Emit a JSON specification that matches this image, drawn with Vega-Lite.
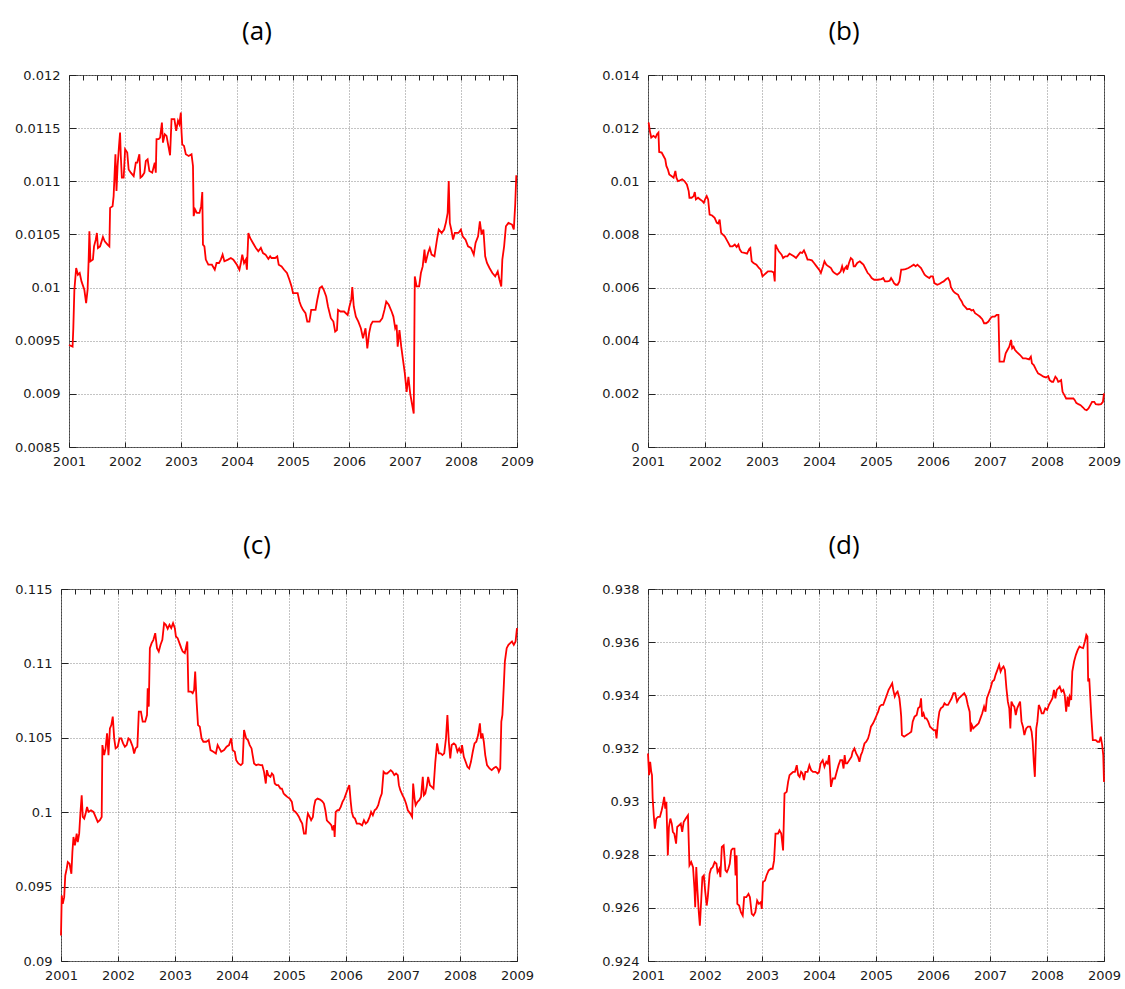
{
  "$schema": "https://vega.github.io/schema/vega-lite/v6.json",
  "background": "white",
  "padding": {"top": 18, "left": 0, "right": 0, "bottom": 0},
  "config": {
    "view": {"stroke": "#444444", "strokeWidth": 1},
    "title": {"font": "Open Sans", "fontSize": 26, "fontWeight": "normal", "color": "#000000", "baseline": "bottom", "offset": 24, "anchor": "middle", "frame": "group"},
    "axis": {"domain": false, "title": null, "labelFont": "DejaVu Sans", "labelFontSize": 13, "labelColor": "#1a1a1a", "tickColor": "#222222", "tickWidth": 1, "gridColor": "#888888", "gridDash": [1, 2], "gridWidth": 1, "labelOverlap": false},
    "axisX": {"tickSize": -5, "labelPadding": 13, "labelFlush": false},
    "axisY": {"tickSize": -7, "labelPadding": 16},
    "line": {"clip": true}
  },
  "spacing": 59,
  "vconcat": [
    {
      "spacing": 9,
      "hconcat": [
        {"width": 1, "height": 1, "data": {"values": [{}]}, "mark": {"type": "text", "text": ""}, "encoding": {}, "view": {"stroke": null}},
        {
          "width": 448, "height": 372,
          "data": {"name": "a"},
          "title": {"text": "(a)", "dx": -36},
          "layer": [
            {"mark": {"type": "line", "color": "#ff0000", "strokeWidth": 1.8},
             "encoding": {
               "x": {"field": "t", "type": "quantitative", "scale": {"domain": [2001, 2009], "nice": false, "zero": false},
                     "axis": {"orient": "bottom", "values": [2001,2001.25,2001.5,2001.75,2002,2002.25,2002.5,2002.75,2003,2003.25,2003.5,2003.75,2004,2004.25,2004.5,2004.75,2005,2005.25,2005.5,2005.75,2006,2006.25,2006.5,2006.75,2007,2007.25,2007.5,2007.75,2008,2008.25,2008.5,2008.75,2009], "format": "d", "labelExpr": "datum.value % 1 == 0 ? datum.label : ''", "gridOpacity": {"condition": {"test": "datum.value % 1 != 0", "value": 0}, "value": 1}, "minExtent": 25}},
               "y": {"field": "v", "type": "quantitative", "scale": {"domain": [0.0085, 0.012], "nice": false, "zero": false},
                     "axis": {"orient": "left", "values": [0.0085,0.009,0.0095,0.01,0.0105,0.011,0.0115,0.012], "format": "~g", "minExtent": 58}}
             }},
            {"mark": {"type": "line", "opacity": 0},
             "encoding": {
               "x": {"field": "t", "type": "quantitative", "scale": {"domain": [2001, 2009], "nice": false, "zero": false},
                     "axis": {"orient": "top", "values": [2001,2001.25,2001.5,2001.75,2002,2002.25,2002.5,2002.75,2003,2003.25,2003.5,2003.75,2004,2004.25,2004.5,2004.75,2005,2005.25,2005.5,2005.75,2006,2006.25,2006.5,2006.75,2007,2007.25,2007.5,2007.75,2008,2008.25,2008.5,2008.75,2009], "labels": false, "grid": false, "minExtent": 0}},
               "y": {"field": "v", "type": "quantitative", "scale": {"domain": [0.0085, 0.012], "nice": false, "zero": false},
                     "axis": {"orient": "right", "values": [0.0085,0.009,0.0095,0.01,0.0105,0.011,0.0115,0.012], "labels": false, "grid": false, "minExtent": 20}}
             }}
          ],
          "resolve": {"axis": {"x": "independent", "y": "independent"}}
        },
        {
          "width": 456, "height": 372,
          "data": {"name": "b"},
          "title": {"text": "(b)", "dx": -32},
          "layer": [
            {"mark": {"type": "line", "color": "#ff0000", "strokeWidth": 1.8},
             "encoding": {
               "x": {"field": "t", "type": "quantitative", "scale": {"domain": [2001, 2009], "nice": false, "zero": false},
                     "axis": {"orient": "bottom", "values": [2001,2001.25,2001.5,2001.75,2002,2002.25,2002.5,2002.75,2003,2003.25,2003.5,2003.75,2004,2004.25,2004.5,2004.75,2005,2005.25,2005.5,2005.75,2006,2006.25,2006.5,2006.75,2007,2007.25,2007.5,2007.75,2008,2008.25,2008.5,2008.75,2009], "format": "d", "labelExpr": "datum.value % 1 == 0 ? datum.label : ''", "gridOpacity": {"condition": {"test": "datum.value % 1 != 0", "value": 0}, "value": 1}, "minExtent": 25}},
               "y": {"field": "v", "type": "quantitative", "scale": {"domain": [0, 0.014], "nice": false, "zero": false},
                     "axis": {"orient": "left", "values": [0,0.002,0.004,0.006,0.008,0.01,0.012,0.014], "format": "~g", "minExtent": 100}}
             }},
            {"mark": {"type": "line", "opacity": 0},
             "encoding": {
               "x": {"field": "t", "type": "quantitative", "scale": {"domain": [2001, 2009], "nice": false, "zero": false},
                     "axis": {"orient": "top", "values": [2001,2001.25,2001.5,2001.75,2002,2002.25,2002.5,2002.75,2003,2003.25,2003.5,2003.75,2004,2004.25,2004.5,2004.75,2005,2005.25,2005.5,2005.75,2006,2006.25,2006.5,2006.75,2007,2007.25,2007.5,2007.75,2008,2008.25,2008.5,2008.75,2009], "labels": false, "grid": false, "minExtent": 0}},
               "y": {"field": "v", "type": "quantitative", "scale": {"domain": [0, 0.014], "nice": false, "zero": false},
                     "axis": {"orient": "right", "values": [0,0.002,0.004,0.006,0.008,0.01,0.012,0.014], "labels": false, "grid": false, "minExtent": 20}}
             }}
          ],
          "resolve": {"axis": {"x": "independent", "y": "independent"}}
        }
      ]
    },
    {
      "spacing": 9,
      "hconcat": [
        {"width": 1, "height": 1, "data": {"values": [{}]}, "mark": {"type": "text", "text": ""}, "encoding": {}, "view": {"stroke": null}},
        {
          "width": 456, "height": 372,
          "data": {"name": "c"},
          "title": {"text": "(c)", "dx": -32},
          "layer": [
            {"mark": {"type": "line", "color": "#ff0000", "strokeWidth": 1.8},
             "encoding": {
               "x": {"field": "t", "type": "quantitative", "scale": {"domain": [2001, 2009], "nice": false, "zero": false},
                     "axis": {"orient": "bottom", "values": [2001,2001.25,2001.5,2001.75,2002,2002.25,2002.5,2002.75,2003,2003.25,2003.5,2003.75,2004,2004.25,2004.5,2004.75,2005,2005.25,2005.5,2005.75,2006,2006.25,2006.5,2006.75,2007,2007.25,2007.5,2007.75,2008,2008.25,2008.5,2008.75,2009], "format": "d", "labelExpr": "datum.value % 1 == 0 ? datum.label : ''", "gridOpacity": {"condition": {"test": "datum.value % 1 != 0", "value": 0}, "value": 1}, "minExtent": 25}},
               "y": {"field": "v", "type": "quantitative", "scale": {"domain": [0.09, 0.115], "nice": false, "zero": false},
                     "axis": {"orient": "left", "values": [0.09,0.095,0.1,0.105,0.11,0.115], "format": "~g", "minExtent": 50}}
             }},
            {"mark": {"type": "line", "opacity": 0},
             "encoding": {
               "x": {"field": "t", "type": "quantitative", "scale": {"domain": [2001, 2009], "nice": false, "zero": false},
                     "axis": {"orient": "top", "values": [2001,2001.25,2001.5,2001.75,2002,2002.25,2002.5,2002.75,2003,2003.25,2003.5,2003.75,2004,2004.25,2004.5,2004.75,2005,2005.25,2005.5,2005.75,2006,2006.25,2006.5,2006.75,2007,2007.25,2007.5,2007.75,2008,2008.25,2008.5,2008.75,2009], "labels": false, "grid": false, "minExtent": 0}},
               "y": {"field": "v", "type": "quantitative", "scale": {"domain": [0.09, 0.115], "nice": false, "zero": false},
                     "axis": {"orient": "right", "values": [0.09,0.095,0.1,0.105,0.11,0.115], "labels": false, "grid": false, "minExtent": 20}}
             }}
          ],
          "resolve": {"axis": {"x": "independent", "y": "independent"}}
        },
        {
          "width": 456, "height": 372,
          "data": {"name": "d"},
          "title": {"text": "(d)", "dx": -32},
          "layer": [
            {"mark": {"type": "line", "color": "#ff0000", "strokeWidth": 1.8},
             "encoding": {
               "x": {"field": "t", "type": "quantitative", "scale": {"domain": [2001, 2009], "nice": false, "zero": false},
                     "axis": {"orient": "bottom", "values": [2001,2001.25,2001.5,2001.75,2002,2002.25,2002.5,2002.75,2003,2003.25,2003.5,2003.75,2004,2004.25,2004.5,2004.75,2005,2005.25,2005.5,2005.75,2006,2006.25,2006.5,2006.75,2007,2007.25,2007.5,2007.75,2008,2008.25,2008.5,2008.75,2009], "format": "d", "labelExpr": "datum.value % 1 == 0 ? datum.label : ''", "gridOpacity": {"condition": {"test": "datum.value % 1 != 0", "value": 0}, "value": 1}, "minExtent": 25}},
               "y": {"field": "v", "type": "quantitative", "scale": {"domain": [0.924, 0.938], "nice": false, "zero": false},
                     "axis": {"orient": "left", "values": [0.924,0.926,0.928,0.93,0.932,0.934,0.936,0.938], "format": "~g", "minExtent": 100}}
             }},
            {"mark": {"type": "line", "opacity": 0},
             "encoding": {
               "x": {"field": "t", "type": "quantitative", "scale": {"domain": [2001, 2009], "nice": false, "zero": false},
                     "axis": {"orient": "top", "values": [2001,2001.25,2001.5,2001.75,2002,2002.25,2002.5,2002.75,2003,2003.25,2003.5,2003.75,2004,2004.25,2004.5,2004.75,2005,2005.25,2005.5,2005.75,2006,2006.25,2006.5,2006.75,2007,2007.25,2007.5,2007.75,2008,2008.25,2008.5,2008.75,2009], "labels": false, "grid": false, "minExtent": 0}},
               "y": {"field": "v", "type": "quantitative", "scale": {"domain": [0.924, 0.938], "nice": false, "zero": false},
                     "axis": {"orient": "right", "values": [0.924,0.926,0.928,0.93,0.932,0.934,0.936,0.938], "labels": false, "grid": false, "minExtent": 20}}
             }}
          ],
          "resolve": {"axis": {"x": "independent", "y": "independent"}}
        }
      ]
    }
  ],
  "datasets": {
    "a": [
      {"t":2001.000,"v":0.00946},{"t":2001.064,"v":0.009444},{"t":2001.077,"v":0.009617},{"t":2001.096,"v":0.009979},{"t":2001.128,"v":0.010184},{"t":2001.159,"v":0.010121},{"t":2001.191,"v":0.010137},{"t":2001.223,"v":0.010058},{"t":2001.274,"v":0.009979},{"t":2001.306,"v":0.009853},{"t":2001.332,"v":0.009979},{"t":2001.351,"v":0.010263},{"t":2001.364,"v":0.01053},{"t":2001.383,"v":0.010247},{"t":2001.427,"v":0.010263},{"t":2001.447,"v":0.010388},{"t":2001.478,"v":0.010451},{"t":2001.498,"v":0.010514},{"t":2001.517,"v":0.010373},{"t":2001.555,"v":0.010388},{"t":2001.606,"v":0.010477},{"t":2001.638,"v":0.010436},{"t":2001.689,"v":0.010404},{"t":2001.721,"v":0.010388},{"t":2001.734,"v":0.01075},{"t":2001.778,"v":0.010766},{"t":2001.797,"v":0.010861},{"t":2001.829,"v":0.011254},{"t":2001.848,"v":0.010908},{"t":2001.868,"v":0.011144},{"t":2001.893,"v":0.011333},{"t":2001.912,"v":0.011459},{"t":2001.925,"v":0.011238},{"t":2001.944,"v":0.011034},{"t":2001.976,"v":0.011034},{"t":2002.002,"v":0.011301},{"t":2002.040,"v":0.01127},{"t":2002.065,"v":0.011112},{"t":2002.104,"v":0.011081},{"t":2002.155,"v":0.011049},{"t":2002.193,"v":0.011175},{"t":2002.218,"v":0.011175},{"t":2002.257,"v":0.011254},{"t":2002.276,"v":0.011034},{"t":2002.308,"v":0.011049},{"t":2002.346,"v":0.011081},{"t":2002.372,"v":0.011191},{"t":2002.404,"v":0.011207},{"t":2002.435,"v":0.011097},{"t":2002.486,"v":0.011081},{"t":2002.531,"v":0.011175},{"t":2002.550,"v":0.011081},{"t":2002.563,"v":0.011396},{"t":2002.601,"v":0.011396},{"t":2002.627,"v":0.011411},{"t":2002.659,"v":0.011553},{"t":2002.678,"v":0.011364},{"t":2002.710,"v":0.011443},{"t":2002.742,"v":0.011427},{"t":2002.774,"v":0.011333},{"t":2002.805,"v":0.011245},{"t":2002.831,"v":0.011585},{"t":2002.882,"v":0.011585},{"t":2002.914,"v":0.011474},{"t":2002.946,"v":0.011569},{"t":2002.971,"v":0.011537},{"t":2002.997,"v":0.011647},{"t":2003.010,"v":0.011459},{"t":2003.022,"v":0.011348},{"t":2003.054,"v":0.011333},{"t":2003.086,"v":0.011254},{"t":2003.137,"v":0.011238},{"t":2003.188,"v":0.011254},{"t":2003.214,"v":0.011144},{"t":2003.226,"v":0.010672},{"t":2003.252,"v":0.010735},{"t":2003.284,"v":0.010703},{"t":2003.329,"v":0.010703},{"t":2003.360,"v":0.010766},{"t":2003.380,"v":0.010898},{"t":2003.392,"v":0.010404},{"t":2003.418,"v":0.010388},{"t":2003.443,"v":0.010263},{"t":2003.488,"v":0.010215},{"t":2003.552,"v":0.010215},{"t":2003.603,"v":0.010168},{"t":2003.635,"v":0.010231},{"t":2003.679,"v":0.010231},{"t":2003.711,"v":0.010263},{"t":2003.743,"v":0.01031},{"t":2003.775,"v":0.010247},{"t":2003.839,"v":0.010263},{"t":2003.890,"v":0.010278},{"t":2003.935,"v":0.010263},{"t":2003.998,"v":0.010215},{"t":2004.043,"v":0.010168},{"t":2004.069,"v":0.010231},{"t":2004.094,"v":0.01031},{"t":2004.126,"v":0.010231},{"t":2004.158,"v":0.010263},{"t":2004.177,"v":0.010168},{"t":2004.203,"v":0.010514},{"t":2004.234,"v":0.010467},{"t":2004.285,"v":0.01042},{"t":2004.337,"v":0.010373},{"t":2004.381,"v":0.010341},{"t":2004.426,"v":0.010373},{"t":2004.464,"v":0.010325},{"t":2004.509,"v":0.01031},{"t":2004.560,"v":0.010269},{"t":2004.592,"v":0.010294},{"t":2004.617,"v":0.010278},{"t":2004.681,"v":0.010278},{"t":2004.719,"v":0.010294},{"t":2004.745,"v":0.010215},{"t":2004.796,"v":0.010199},{"t":2004.841,"v":0.010168},{"t":2004.892,"v":0.010137},{"t":2004.936,"v":0.010074},{"t":2004.974,"v":0.010011},{"t":2005.000,"v":0.009948},{"t":2005.083,"v":0.009948},{"t":2005.115,"v":0.009869},{"t":2005.147,"v":0.009822},{"t":2005.179,"v":0.00979},{"t":2005.223,"v":0.009759},{"t":2005.255,"v":0.00968},{"t":2005.293,"v":0.00968},{"t":2005.325,"v":0.00979},{"t":2005.402,"v":0.00979},{"t":2005.434,"v":0.009885},{"t":2005.478,"v":0.009995},{"t":2005.517,"v":0.010011},{"t":2005.549,"v":0.009979},{"t":2005.593,"v":0.009916},{"t":2005.625,"v":0.009822},{"t":2005.676,"v":0.009712},{"t":2005.721,"v":0.00968},{"t":2005.753,"v":0.009586},{"t":2005.785,"v":0.009601},{"t":2005.804,"v":0.00979},{"t":2005.848,"v":0.009775},{"t":2005.912,"v":0.009775},{"t":2005.976,"v":0.009743},{"t":2006.008,"v":0.009822},{"t":2006.040,"v":0.009885},{"t":2006.059,"v":0.010004},{"t":2006.085,"v":0.009822},{"t":2006.123,"v":0.009727},{"t":2006.167,"v":0.00968},{"t":2006.212,"v":0.009617},{"t":2006.250,"v":0.009523},{"t":2006.295,"v":0.009617},{"t":2006.327,"v":0.009428},{"t":2006.359,"v":0.00957},{"t":2006.391,"v":0.009649},{"t":2006.423,"v":0.00968},{"t":2006.550,"v":0.00968},{"t":2006.595,"v":0.009712},{"t":2006.633,"v":0.00979},{"t":2006.665,"v":0.009869},{"t":2006.710,"v":0.009838},{"t":2006.761,"v":0.009775},{"t":2006.793,"v":0.009727},{"t":2006.825,"v":0.009617},{"t":2006.850,"v":0.009649},{"t":2006.869,"v":0.009444},{"t":2006.901,"v":0.009601},{"t":2006.933,"v":0.009444},{"t":2006.965,"v":0.009318},{"t":2006.997,"v":0.009192},{"t":2007.029,"v":0.009019},{"t":2007.061,"v":0.009161},{"t":2007.093,"v":0.009003},{"t":2007.124,"v":0.008909},{"t":2007.156,"v":0.008815},{"t":2007.175,"v":0.010105},{"t":2007.207,"v":0.010011},{"t":2007.252,"v":0.010011},{"t":2007.284,"v":0.010137},{"t":2007.316,"v":0.010199},{"t":2007.348,"v":0.010357},{"t":2007.367,"v":0.010231},{"t":2007.411,"v":0.010325},{"t":2007.443,"v":0.010373},{"t":2007.475,"v":0.01031},{"t":2007.526,"v":0.010294},{"t":2007.571,"v":0.010451},{"t":2007.603,"v":0.010546},{"t":2007.654,"v":0.010514},{"t":2007.699,"v":0.010546},{"t":2007.730,"v":0.010609},{"t":2007.762,"v":0.010703},{"t":2007.781,"v":0.011002},{"t":2007.800,"v":0.010609},{"t":2007.826,"v":0.010546},{"t":2007.858,"v":0.010451},{"t":2007.890,"v":0.010514},{"t":2007.954,"v":0.010514},{"t":2007.998,"v":0.010546},{"t":2008.030,"v":0.010483},{"t":2008.081,"v":0.010451},{"t":2008.126,"v":0.010388},{"t":2008.177,"v":0.010373},{"t":2008.228,"v":0.01031},{"t":2008.260,"v":0.01042},{"t":2008.305,"v":0.010483},{"t":2008.337,"v":0.010624},{"t":2008.368,"v":0.010499},{"t":2008.400,"v":0.010546},{"t":2008.432,"v":0.010294},{"t":2008.464,"v":0.010231},{"t":2008.509,"v":0.010184},{"t":2008.560,"v":0.010137},{"t":2008.611,"v":0.010105},{"t":2008.656,"v":0.010152},{"t":2008.687,"v":0.010074},{"t":2008.719,"v":0.010011},{"t":2008.738,"v":0.010263},{"t":2008.770,"v":0.010388},{"t":2008.802,"v":0.010577},{"t":2008.847,"v":0.010609},{"t":2008.911,"v":0.010593},{"t":2008.943,"v":0.010546},{"t":2008.968,"v":0.010782},{"t":2008.987,"v":0.011049},{"t":2009.000,"v":0.011049}
    ],
    "b": [
      {"t":2001.000,"v":0.0122},{"t":2001.013,"v":0.012187},{"t":2001.032,"v":0.011898},{"t":2001.057,"v":0.011646},{"t":2001.095,"v":0.011709},{"t":2001.133,"v":0.011646},{"t":2001.158,"v":0.011772},{"t":2001.183,"v":0.011835},{"t":2001.196,"v":0.011104},{"t":2001.240,"v":0.011079},{"t":2001.272,"v":0.010953},{"t":2001.303,"v":0.010827},{"t":2001.322,"v":0.010576},{"t":2001.348,"v":0.01045},{"t":2001.373,"v":0.010261},{"t":2001.411,"v":0.010198},{"t":2001.449,"v":0.010135},{"t":2001.480,"v":0.010387},{"t":2001.499,"v":0.010135},{"t":2001.524,"v":0.010009},{"t":2001.562,"v":0.010034},{"t":2001.600,"v":0.010072},{"t":2001.638,"v":0.010009},{"t":2001.682,"v":0.009883},{"t":2001.714,"v":0.009631},{"t":2001.727,"v":0.00938},{"t":2001.765,"v":0.00938},{"t":2001.802,"v":0.009443},{"t":2001.821,"v":0.009594},{"t":2001.840,"v":0.009317},{"t":2001.878,"v":0.00938},{"t":2001.916,"v":0.009317},{"t":2001.954,"v":0.009254},{"t":2001.979,"v":0.009191},{"t":2002.005,"v":0.009342},{"t":2002.030,"v":0.009443},{"t":2002.055,"v":0.009317},{"t":2002.081,"v":0.00875},{"t":2002.125,"v":0.008712},{"t":2002.169,"v":0.008624},{"t":2002.207,"v":0.008435},{"t":2002.232,"v":0.00841},{"t":2002.257,"v":0.008561},{"t":2002.283,"v":0.008058},{"t":2002.314,"v":0.007995},{"t":2002.346,"v":0.007932},{"t":2002.378,"v":0.007806},{"t":2002.409,"v":0.00768},{"t":2002.441,"v":0.007554},{"t":2002.485,"v":0.007554},{"t":2002.523,"v":0.007617},{"t":2002.555,"v":0.007529},{"t":2002.586,"v":0.007617},{"t":2002.611,"v":0.007428},{"t":2002.643,"v":0.007327},{"t":2002.694,"v":0.007302},{"t":2002.738,"v":0.007277},{"t":2002.776,"v":0.007453},{"t":2002.795,"v":0.007491},{"t":2002.820,"v":0.006987},{"t":2002.851,"v":0.006925},{"t":2002.902,"v":0.006862},{"t":2002.946,"v":0.006736},{"t":2002.978,"v":0.006673},{"t":2003.009,"v":0.006421},{"t":2003.041,"v":0.006484},{"t":2003.073,"v":0.006547},{"t":2003.104,"v":0.00661},{"t":2003.167,"v":0.00661},{"t":2003.205,"v":0.006572},{"t":2003.224,"v":0.006232},{"t":2003.237,"v":0.007617},{"t":2003.262,"v":0.007491},{"t":2003.294,"v":0.007365},{"t":2003.344,"v":0.007239},{"t":2003.370,"v":0.007113},{"t":2003.408,"v":0.007176},{"t":2003.445,"v":0.007176},{"t":2003.483,"v":0.007277},{"t":2003.515,"v":0.007239},{"t":2003.559,"v":0.007176},{"t":2003.597,"v":0.007113},{"t":2003.641,"v":0.007239},{"t":2003.673,"v":0.007327},{"t":2003.705,"v":0.007302},{"t":2003.736,"v":0.007403},{"t":2003.768,"v":0.007239},{"t":2003.799,"v":0.00705},{"t":2003.831,"v":0.00705},{"t":2003.875,"v":0.007025},{"t":2003.913,"v":0.006925},{"t":2003.957,"v":0.006799},{"t":2004.002,"v":0.006673},{"t":2004.033,"v":0.006547},{"t":2004.071,"v":0.006799},{"t":2004.096,"v":0.006987},{"t":2004.128,"v":0.006862},{"t":2004.166,"v":0.006799},{"t":2004.210,"v":0.006736},{"t":2004.242,"v":0.00661},{"t":2004.273,"v":0.006547},{"t":2004.318,"v":0.006484},{"t":2004.355,"v":0.006547},{"t":2004.381,"v":0.00661},{"t":2004.406,"v":0.006799},{"t":2004.431,"v":0.00661},{"t":2004.457,"v":0.006736},{"t":2004.482,"v":0.006799},{"t":2004.494,"v":0.006673},{"t":2004.526,"v":0.006925},{"t":2004.558,"v":0.007113},{"t":2004.589,"v":0.00705},{"t":2004.608,"v":0.006799},{"t":2004.633,"v":0.006799},{"t":2004.671,"v":0.006925},{"t":2004.716,"v":0.006987},{"t":2004.747,"v":0.006925},{"t":2004.779,"v":0.006862},{"t":2004.810,"v":0.006736},{"t":2004.855,"v":0.006547},{"t":2004.886,"v":0.006484},{"t":2004.924,"v":0.006358},{"t":2004.968,"v":0.006295},{"t":2005.032,"v":0.006295},{"t":2005.095,"v":0.00632},{"t":2005.126,"v":0.006358},{"t":2005.158,"v":0.006232},{"t":2005.202,"v":0.006232},{"t":2005.240,"v":0.006257},{"t":2005.265,"v":0.006358},{"t":2005.291,"v":0.00627},{"t":2005.316,"v":0.006169},{"t":2005.348,"v":0.006106},{"t":2005.379,"v":0.006106},{"t":2005.411,"v":0.006232},{"t":2005.442,"v":0.006673},{"t":2005.474,"v":0.006673},{"t":2005.518,"v":0.006698},{"t":2005.569,"v":0.006736},{"t":2005.619,"v":0.006799},{"t":2005.663,"v":0.006862},{"t":2005.695,"v":0.006799},{"t":2005.727,"v":0.006862},{"t":2005.758,"v":0.006799},{"t":2005.790,"v":0.006736},{"t":2005.821,"v":0.00661},{"t":2005.853,"v":0.006484},{"t":2005.885,"v":0.006421},{"t":2005.935,"v":0.006358},{"t":2005.960,"v":0.006421},{"t":2005.998,"v":0.006421},{"t":2006.024,"v":0.006169},{"t":2006.074,"v":0.006106},{"t":2006.118,"v":0.006144},{"t":2006.150,"v":0.006194},{"t":2006.188,"v":0.006232},{"t":2006.232,"v":0.00632},{"t":2006.264,"v":0.006358},{"t":2006.295,"v":0.006232},{"t":2006.314,"v":0.006018},{"t":2006.359,"v":0.005854},{"t":2006.390,"v":0.005791},{"t":2006.441,"v":0.005728},{"t":2006.466,"v":0.005603},{"t":2006.504,"v":0.005477},{"t":2006.529,"v":0.005351},{"t":2006.567,"v":0.005263},{"t":2006.599,"v":0.005187},{"t":2006.643,"v":0.0052},{"t":2006.675,"v":0.005137},{"t":2006.706,"v":0.005162},{"t":2006.738,"v":0.005036},{"t":2006.782,"v":0.004973},{"t":2006.820,"v":0.00491},{"t":2006.864,"v":0.004809},{"t":2006.896,"v":0.004658},{"t":2006.934,"v":0.004658},{"t":2006.972,"v":0.004721},{"t":2007.009,"v":0.004847},{"t":2007.041,"v":0.00491},{"t":2007.085,"v":0.00491},{"t":2007.117,"v":0.004973},{"t":2007.148,"v":0.004973},{"t":2007.167,"v":0.00321},{"t":2007.199,"v":0.00321},{"t":2007.243,"v":0.00321},{"t":2007.275,"v":0.003525},{"t":2007.306,"v":0.003651},{"t":2007.338,"v":0.003777},{"t":2007.370,"v":0.004029},{"t":2007.389,"v":0.003714},{"t":2007.414,"v":0.003777},{"t":2007.439,"v":0.003651},{"t":2007.464,"v":0.003588},{"t":2007.496,"v":0.003525},{"t":2007.528,"v":0.003462},{"t":2007.578,"v":0.003336},{"t":2007.629,"v":0.003336},{"t":2007.686,"v":0.003299},{"t":2007.717,"v":0.003399},{"t":2007.736,"v":0.003148},{"t":2007.768,"v":0.003085},{"t":2007.812,"v":0.002896},{"t":2007.843,"v":0.00277},{"t":2007.894,"v":0.002707},{"t":2007.938,"v":0.002644},{"t":2007.983,"v":0.002619},{"t":2008.021,"v":0.002669},{"t":2008.046,"v":0.002518},{"t":2008.084,"v":0.002455},{"t":2008.109,"v":0.002455},{"t":2008.147,"v":0.002644},{"t":2008.172,"v":0.002581},{"t":2008.197,"v":0.002455},{"t":2008.223,"v":0.00248},{"t":2008.248,"v":0.002518},{"t":2008.273,"v":0.002077},{"t":2008.305,"v":0.001951},{"t":2008.336,"v":0.001826},{"t":2008.381,"v":0.001826},{"t":2008.425,"v":0.001826},{"t":2008.463,"v":0.001826},{"t":2008.488,"v":0.001763},{"t":2008.513,"v":0.001662},{"t":2008.551,"v":0.001612},{"t":2008.589,"v":0.001574},{"t":2008.633,"v":0.001486},{"t":2008.665,"v":0.00141},{"t":2008.696,"v":0.001385},{"t":2008.728,"v":0.001448},{"t":2008.760,"v":0.001574},{"t":2008.791,"v":0.0017},{"t":2008.829,"v":0.0017},{"t":2008.855,"v":0.001612},{"t":2008.905,"v":0.001599},{"t":2008.949,"v":0.001612},{"t":2008.981,"v":0.0017},{"t":2009.000,"v":0.002014}
    ],
    "c": [
      {"t":2001.000,"v":0.091707},{"t":2001.013,"v":0.094403},{"t":2001.031,"v":0.093841},{"t":2001.056,"v":0.09429},{"t":2001.075,"v":0.09575},{"t":2001.100,"v":0.0962},{"t":2001.119,"v":0.096649},{"t":2001.150,"v":0.096536},{"t":2001.182,"v":0.095863},{"t":2001.200,"v":0.097323},{"t":2001.219,"v":0.098333},{"t":2001.244,"v":0.097772},{"t":2001.275,"v":0.098558},{"t":2001.294,"v":0.097996},{"t":2001.319,"v":0.098558},{"t":2001.338,"v":0.099793},{"t":2001.363,"v":0.101141},{"t":2001.382,"v":0.099681},{"t":2001.407,"v":0.099569},{"t":2001.432,"v":0.099906},{"t":2001.457,"v":0.100355},{"t":2001.482,"v":0.100018},{"t":2001.526,"v":0.10013},{"t":2001.570,"v":0.100018},{"t":2001.607,"v":0.099681},{"t":2001.645,"v":0.099344},{"t":2001.682,"v":0.099457},{"t":2001.714,"v":0.099681},{"t":2001.726,"v":0.10451},{"t":2001.757,"v":0.103837},{"t":2001.782,"v":0.104286},{"t":2001.808,"v":0.105297},{"t":2001.833,"v":0.103837},{"t":2001.858,"v":0.105634},{"t":2001.883,"v":0.105858},{"t":2001.908,"v":0.10642},{"t":2001.933,"v":0.10496},{"t":2001.958,"v":0.104286},{"t":2001.995,"v":0.104398},{"t":2002.027,"v":0.10496},{"t":2002.058,"v":0.10496},{"t":2002.089,"v":0.104623},{"t":2002.121,"v":0.104398},{"t":2002.152,"v":0.10451},{"t":2002.183,"v":0.10496},{"t":2002.214,"v":0.104847},{"t":2002.258,"v":0.104398},{"t":2002.283,"v":0.103949},{"t":2002.308,"v":0.104286},{"t":2002.340,"v":0.104398},{"t":2002.365,"v":0.106757},{"t":2002.402,"v":0.106757},{"t":2002.433,"v":0.106083},{"t":2002.477,"v":0.106083},{"t":2002.509,"v":0.106532},{"t":2002.521,"v":0.108329},{"t":2002.540,"v":0.107094},{"t":2002.559,"v":0.111024},{"t":2002.590,"v":0.111361},{"t":2002.621,"v":0.111586},{"t":2002.653,"v":0.112035},{"t":2002.684,"v":0.111024},{"t":2002.715,"v":0.1108},{"t":2002.746,"v":0.111249},{"t":2002.778,"v":0.111586},{"t":2002.809,"v":0.112709},{"t":2002.840,"v":0.112597},{"t":2002.872,"v":0.112327},{"t":2002.903,"v":0.112597},{"t":2002.934,"v":0.112372},{"t":2002.966,"v":0.112709},{"t":2002.997,"v":0.112372},{"t":2003.016,"v":0.111811},{"t":2003.047,"v":0.111698},{"t":2003.078,"v":0.111361},{"t":2003.110,"v":0.111024},{"t":2003.135,"v":0.1108},{"t":2003.172,"v":0.110688},{"t":2003.197,"v":0.111137},{"t":2003.216,"v":0.111474},{"t":2003.235,"v":0.108104},{"t":2003.279,"v":0.108104},{"t":2003.310,"v":0.107992},{"t":2003.335,"v":0.108217},{"t":2003.354,"v":0.109452},{"t":2003.379,"v":0.107431},{"t":2003.404,"v":0.105858},{"t":2003.435,"v":0.105746},{"t":2003.466,"v":0.10496},{"t":2003.498,"v":0.104735},{"t":2003.548,"v":0.104735},{"t":2003.592,"v":0.104847},{"t":2003.623,"v":0.104174},{"t":2003.673,"v":0.104061},{"t":2003.717,"v":0.103949},{"t":2003.748,"v":0.10451},{"t":2003.779,"v":0.104286},{"t":2003.811,"v":0.104061},{"t":2003.861,"v":0.104174},{"t":2003.905,"v":0.104398},{"t":2003.948,"v":0.10451},{"t":2003.986,"v":0.10496},{"t":2004.011,"v":0.104174},{"t":2004.049,"v":0.104061},{"t":2004.074,"v":0.1035},{"t":2004.111,"v":0.103275},{"t":2004.155,"v":0.103163},{"t":2004.186,"v":0.103275},{"t":2004.211,"v":0.105521},{"t":2004.249,"v":0.10496},{"t":2004.280,"v":0.104847},{"t":2004.311,"v":0.10451},{"t":2004.343,"v":0.104286},{"t":2004.362,"v":0.103837},{"t":2004.387,"v":0.103275},{"t":2004.424,"v":0.103163},{"t":2004.462,"v":0.103208},{"t":2004.499,"v":0.103163},{"t":2004.531,"v":0.103163},{"t":2004.562,"v":0.102714},{"t":2004.593,"v":0.101927},{"t":2004.612,"v":0.102826},{"t":2004.637,"v":0.102489},{"t":2004.675,"v":0.102377},{"t":2004.700,"v":0.102601},{"t":2004.725,"v":0.102489},{"t":2004.750,"v":0.101927},{"t":2004.781,"v":0.101815},{"t":2004.812,"v":0.101815},{"t":2004.850,"v":0.10159},{"t":2004.875,"v":0.10159},{"t":2004.906,"v":0.101253},{"t":2004.937,"v":0.101141},{"t":2004.969,"v":0.101029},{"t":2005.013,"v":0.100917},{"t":2005.050,"v":0.100692},{"t":2005.075,"v":0.10013},{"t":2005.113,"v":0.100018},{"t":2005.138,"v":0.099906},{"t":2005.175,"v":0.099681},{"t":2005.200,"v":0.099457},{"t":2005.232,"v":0.099232},{"t":2005.263,"v":0.098558},{"t":2005.294,"v":0.098558},{"t":2005.313,"v":0.099457},{"t":2005.332,"v":0.099906},{"t":2005.363,"v":0.099681},{"t":2005.388,"v":0.099457},{"t":2005.419,"v":0.099681},{"t":2005.438,"v":0.100355},{"t":2005.463,"v":0.100804},{"t":2005.501,"v":0.100917},{"t":2005.545,"v":0.100849},{"t":2005.582,"v":0.100737},{"t":2005.613,"v":0.10058},{"t":2005.638,"v":0.10013},{"t":2005.664,"v":0.099457},{"t":2005.689,"v":0.099344},{"t":2005.720,"v":0.099232},{"t":2005.745,"v":0.09912},{"t":2005.764,"v":0.098783},{"t":2005.789,"v":0.09912},{"t":2005.801,"v":0.098333},{"t":2005.820,"v":0.100018},{"t":2005.851,"v":0.10013},{"t":2005.876,"v":0.10013},{"t":2005.908,"v":0.100355},{"t":2005.939,"v":0.100692},{"t":2005.970,"v":0.100917},{"t":2006.002,"v":0.101253},{"t":2006.033,"v":0.10159},{"t":2006.058,"v":0.101815},{"t":2006.083,"v":0.100692},{"t":2006.102,"v":0.100018},{"t":2006.127,"v":0.099681},{"t":2006.158,"v":0.099569},{"t":2006.189,"v":0.099232},{"t":2006.239,"v":0.099232},{"t":2006.283,"v":0.09912},{"t":2006.315,"v":0.099457},{"t":2006.346,"v":0.099232},{"t":2006.377,"v":0.099344},{"t":2006.415,"v":0.099681},{"t":2006.440,"v":0.100018},{"t":2006.471,"v":0.099793},{"t":2006.502,"v":0.10013},{"t":2006.534,"v":0.100243},{"t":2006.565,"v":0.100467},{"t":2006.596,"v":0.100917},{"t":2006.628,"v":0.101253},{"t":2006.659,"v":0.102714},{"t":2006.690,"v":0.102601},{"t":2006.721,"v":0.102601},{"t":2006.753,"v":0.102714},{"t":2006.784,"v":0.102826},{"t":2006.815,"v":0.102714},{"t":2006.847,"v":0.102489},{"t":2006.878,"v":0.102601},{"t":2006.909,"v":0.102489},{"t":2006.928,"v":0.101815},{"t":2006.953,"v":0.101478},{"t":2006.991,"v":0.101141},{"t":2007.022,"v":0.100917},{"t":2007.053,"v":0.10058},{"t":2007.085,"v":0.10013},{"t":2007.128,"v":0.099906},{"t":2007.160,"v":0.099681},{"t":2007.178,"v":0.101927},{"t":2007.203,"v":0.100917},{"t":2007.222,"v":0.100467},{"t":2007.254,"v":0.100692},{"t":2007.285,"v":0.100804},{"t":2007.316,"v":0.101029},{"t":2007.347,"v":0.102377},{"t":2007.366,"v":0.101141},{"t":2007.391,"v":0.101253},{"t":2007.416,"v":0.101703},{"t":2007.441,"v":0.102377},{"t":2007.473,"v":0.101815},{"t":2007.504,"v":0.101703},{"t":2007.535,"v":0.10159},{"t":2007.567,"v":0.103387},{"t":2007.598,"v":0.104623},{"t":2007.629,"v":0.103949},{"t":2007.660,"v":0.103949},{"t":2007.692,"v":0.103837},{"t":2007.723,"v":0.103949},{"t":2007.754,"v":0.10496},{"t":2007.779,"v":0.106532},{"t":2007.804,"v":0.104735},{"t":2007.829,"v":0.103612},{"t":2007.854,"v":0.10451},{"t":2007.892,"v":0.104623},{"t":2007.923,"v":0.10451},{"t":2007.955,"v":0.104061},{"t":2007.986,"v":0.104286},{"t":2008.017,"v":0.103949},{"t":2008.036,"v":0.10451},{"t":2008.067,"v":0.103724},{"t":2008.099,"v":0.103387},{"t":2008.130,"v":0.10305},{"t":2008.161,"v":0.102938},{"t":2008.192,"v":0.103387},{"t":2008.224,"v":0.104061},{"t":2008.255,"v":0.104623},{"t":2008.286,"v":0.104735},{"t":2008.318,"v":0.105184},{"t":2008.349,"v":0.10597},{"t":2008.368,"v":0.10496},{"t":2008.393,"v":0.105297},{"t":2008.418,"v":0.104735},{"t":2008.443,"v":0.103837},{"t":2008.474,"v":0.103163},{"t":2008.518,"v":0.102938},{"t":2008.556,"v":0.102826},{"t":2008.600,"v":0.102983},{"t":2008.631,"v":0.10305},{"t":2008.662,"v":0.102938},{"t":2008.681,"v":0.102714},{"t":2008.706,"v":0.102938},{"t":2008.725,"v":0.106083},{"t":2008.744,"v":0.106532},{"t":2008.769,"v":0.108554},{"t":2008.787,"v":0.110126},{"t":2008.819,"v":0.111024},{"t":2008.850,"v":0.111249},{"t":2008.881,"v":0.111361},{"t":2008.912,"v":0.111474},{"t":2008.944,"v":0.111249},{"t":2008.975,"v":0.111474},{"t":2009.000,"v":0.112372}
    ],
    "d": [
      {"t":2001.000,"v":0.931811},{"t":2001.019,"v":0.930994},{"t":2001.038,"v":0.931497},{"t":2001.057,"v":0.93112},{"t":2001.070,"v":0.930994},{"t":2001.082,"v":0.930113},{"t":2001.101,"v":0.929484},{"t":2001.120,"v":0.928981},{"t":2001.145,"v":0.929359},{"t":2001.177,"v":0.929422},{"t":2001.209,"v":0.929422},{"t":2001.240,"v":0.929673},{"t":2001.259,"v":0.929862},{"t":2001.284,"v":0.930176},{"t":2001.303,"v":0.929736},{"t":2001.322,"v":0.929988},{"t":2001.348,"v":0.927975},{"t":2001.367,"v":0.929044},{"t":2001.392,"v":0.929359},{"t":2001.417,"v":0.92917},{"t":2001.436,"v":0.928856},{"t":2001.461,"v":0.928793},{"t":2001.493,"v":0.928415},{"t":2001.512,"v":0.929044},{"t":2001.543,"v":0.929107},{"t":2001.575,"v":0.92917},{"t":2001.600,"v":0.928856},{"t":2001.626,"v":0.929233},{"t":2001.663,"v":0.929359},{"t":2001.701,"v":0.929484},{"t":2001.727,"v":0.927598},{"t":2001.758,"v":0.927723},{"t":2001.790,"v":0.927535},{"t":2001.815,"v":0.926717},{"t":2001.828,"v":0.926025},{"t":2001.847,"v":0.927535},{"t":2001.866,"v":0.926717},{"t":2001.891,"v":0.925837},{"t":2001.910,"v":0.925333},{"t":2001.935,"v":0.92634},{"t":2001.954,"v":0.927157},{"t":2001.979,"v":0.92722},{"t":2002.005,"v":0.926591},{"t":2002.030,"v":0.926088},{"t":2002.049,"v":0.926403},{"t":2002.081,"v":0.927283},{"t":2002.106,"v":0.927472},{"t":2002.137,"v":0.927535},{"t":2002.169,"v":0.927723},{"t":2002.201,"v":0.92766},{"t":2002.220,"v":0.927346},{"t":2002.251,"v":0.927472},{"t":2002.270,"v":0.927157},{"t":2002.295,"v":0.928289},{"t":2002.327,"v":0.928352},{"t":2002.359,"v":0.927409},{"t":2002.384,"v":0.927346},{"t":2002.409,"v":0.927472},{"t":2002.434,"v":0.92766},{"t":2002.460,"v":0.928164},{"t":2002.485,"v":0.928227},{"t":2002.517,"v":0.928227},{"t":2002.536,"v":0.92722},{"t":2002.555,"v":0.927975},{"t":2002.567,"v":0.926151},{"t":2002.599,"v":0.926088},{"t":2002.630,"v":0.925837},{"t":2002.662,"v":0.925711},{"t":2002.687,"v":0.926403},{"t":2002.725,"v":0.926403},{"t":2002.763,"v":0.926528},{"t":2002.788,"v":0.926403},{"t":2002.820,"v":0.925774},{"t":2002.851,"v":0.925711},{"t":2002.883,"v":0.925837},{"t":2002.915,"v":0.926277},{"t":2002.946,"v":0.926151},{"t":2002.978,"v":0.926214},{"t":2002.997,"v":0.925962},{"t":2003.016,"v":0.926969},{"t":2003.054,"v":0.927032},{"t":2003.079,"v":0.92722},{"t":2003.117,"v":0.927409},{"t":2003.155,"v":0.927472},{"t":2003.186,"v":0.927472},{"t":2003.212,"v":0.927786},{"t":2003.237,"v":0.928793},{"t":2003.281,"v":0.928793},{"t":2003.306,"v":0.928918},{"t":2003.338,"v":0.928793},{"t":2003.370,"v":0.928164},{"t":2003.395,"v":0.930302},{"t":2003.433,"v":0.930365},{"t":2003.458,"v":0.930742},{"t":2003.483,"v":0.930994},{"t":2003.515,"v":0.931057},{"t":2003.547,"v":0.93112},{"t":2003.578,"v":0.93112},{"t":2003.610,"v":0.931371},{"t":2003.635,"v":0.930994},{"t":2003.660,"v":0.930931},{"t":2003.686,"v":0.93112},{"t":2003.711,"v":0.931057},{"t":2003.736,"v":0.930805},{"t":2003.761,"v":0.93112},{"t":2003.799,"v":0.93112},{"t":2003.831,"v":0.931371},{"t":2003.862,"v":0.931183},{"t":2003.894,"v":0.93112},{"t":2003.938,"v":0.93112},{"t":2003.976,"v":0.931057},{"t":2004.002,"v":0.93112},{"t":2004.027,"v":0.931434},{"t":2004.065,"v":0.93156},{"t":2004.096,"v":0.931308},{"t":2004.128,"v":0.931497},{"t":2004.153,"v":0.931434},{"t":2004.178,"v":0.931749},{"t":2004.210,"v":0.930554},{"t":2004.242,"v":0.930868},{"t":2004.280,"v":0.930868},{"t":2004.311,"v":0.93112},{"t":2004.343,"v":0.931371},{"t":2004.374,"v":0.93156},{"t":2004.406,"v":0.93156},{"t":2004.431,"v":0.931245},{"t":2004.450,"v":0.931749},{"t":2004.469,"v":0.931434},{"t":2004.494,"v":0.931434},{"t":2004.532,"v":0.93156},{"t":2004.570,"v":0.931686},{"t":2004.589,"v":0.931874},{"t":2004.621,"v":0.932},{"t":2004.652,"v":0.931811},{"t":2004.684,"v":0.931686},{"t":2004.709,"v":0.931497},{"t":2004.735,"v":0.931749},{"t":2004.760,"v":0.931874},{"t":2004.798,"v":0.932189},{"t":2004.829,"v":0.932252},{"t":2004.861,"v":0.932378},{"t":2004.886,"v":0.932566},{"t":2004.911,"v":0.932818},{"t":2004.949,"v":0.932944},{"t":2004.975,"v":0.933069},{"t":2005.013,"v":0.933258},{"t":2005.038,"v":0.933384},{"t":2005.063,"v":0.933573},{"t":2005.095,"v":0.933636},{"t":2005.126,"v":0.933636},{"t":2005.158,"v":0.933824},{"t":2005.190,"v":0.934013},{"t":2005.221,"v":0.934202},{"t":2005.253,"v":0.934327},{"t":2005.284,"v":0.934453},{"t":2005.303,"v":0.934202},{"t":2005.329,"v":0.93395},{"t":2005.354,"v":0.934076},{"t":2005.379,"v":0.934139},{"t":2005.411,"v":0.933887},{"t":2005.430,"v":0.93351},{"t":2005.442,"v":0.933195},{"t":2005.455,"v":0.932503},{"t":2005.493,"v":0.932441},{"t":2005.537,"v":0.932503},{"t":2005.581,"v":0.932566},{"t":2005.619,"v":0.932629},{"t":2005.644,"v":0.933007},{"t":2005.676,"v":0.933195},{"t":2005.714,"v":0.933258},{"t":2005.739,"v":0.93351},{"t":2005.771,"v":0.933573},{"t":2005.790,"v":0.933887},{"t":2005.809,"v":0.933195},{"t":2005.834,"v":0.933321},{"t":2005.859,"v":0.933132},{"t":2005.885,"v":0.933132},{"t":2005.916,"v":0.933007},{"t":2005.948,"v":0.932818},{"t":2005.979,"v":0.932755},{"t":2006.011,"v":0.932692},{"t":2006.043,"v":0.932692},{"t":2006.062,"v":0.932378},{"t":2006.087,"v":0.933007},{"t":2006.112,"v":0.933384},{"t":2006.137,"v":0.93351},{"t":2006.175,"v":0.933573},{"t":2006.201,"v":0.933698},{"t":2006.232,"v":0.933636},{"t":2006.264,"v":0.933636},{"t":2006.295,"v":0.933761},{"t":2006.327,"v":0.933887},{"t":2006.359,"v":0.934076},{"t":2006.390,"v":0.934076},{"t":2006.422,"v":0.933761},{"t":2006.453,"v":0.933887},{"t":2006.485,"v":0.93395},{"t":2006.517,"v":0.934013},{"t":2006.548,"v":0.934076},{"t":2006.580,"v":0.93395},{"t":2006.611,"v":0.933636},{"t":2006.643,"v":0.933384},{"t":2006.662,"v":0.932629},{"t":2006.681,"v":0.932881},{"t":2006.706,"v":0.932755},{"t":2006.738,"v":0.932818},{"t":2006.769,"v":0.932881},{"t":2006.801,"v":0.932944},{"t":2006.832,"v":0.933132},{"t":2006.864,"v":0.933321},{"t":2006.896,"v":0.933573},{"t":2006.921,"v":0.933384},{"t":2006.946,"v":0.933887},{"t":2006.978,"v":0.934076},{"t":2007.009,"v":0.934264},{"t":2007.041,"v":0.934516},{"t":2007.073,"v":0.934579},{"t":2007.098,"v":0.934768},{"t":2007.130,"v":0.934956},{"t":2007.161,"v":0.935145},{"t":2007.186,"v":0.934893},{"t":2007.212,"v":0.935019},{"t":2007.237,"v":0.935082},{"t":2007.262,"v":0.934956},{"t":2007.288,"v":0.934264},{"t":2007.313,"v":0.933761},{"t":2007.338,"v":0.93351},{"t":2007.357,"v":0.932755},{"t":2007.376,"v":0.933761},{"t":2007.401,"v":0.933636},{"t":2007.427,"v":0.933573},{"t":2007.452,"v":0.933258},{"t":2007.477,"v":0.93351},{"t":2007.502,"v":0.933636},{"t":2007.528,"v":0.933761},{"t":2007.553,"v":0.933007},{"t":2007.578,"v":0.932818},{"t":2007.603,"v":0.932503},{"t":2007.635,"v":0.932755},{"t":2007.667,"v":0.932818},{"t":2007.705,"v":0.932818},{"t":2007.730,"v":0.932629},{"t":2007.749,"v":0.932252},{"t":2007.768,"v":0.931497},{"t":2007.787,"v":0.930931},{"t":2007.812,"v":0.932755},{"t":2007.831,"v":0.933007},{"t":2007.856,"v":0.933636},{"t":2007.882,"v":0.93351},{"t":2007.907,"v":0.933321},{"t":2007.938,"v":0.933321},{"t":2007.970,"v":0.93351},{"t":2008.002,"v":0.933447},{"t":2008.033,"v":0.933636},{"t":2008.065,"v":0.933761},{"t":2008.096,"v":0.933887},{"t":2008.122,"v":0.934202},{"t":2008.147,"v":0.933887},{"t":2008.172,"v":0.934202},{"t":2008.197,"v":0.934264},{"t":2008.223,"v":0.934327},{"t":2008.254,"v":0.934139},{"t":2008.286,"v":0.934202},{"t":2008.311,"v":0.934013},{"t":2008.336,"v":0.933384},{"t":2008.362,"v":0.93395},{"t":2008.381,"v":0.933573},{"t":2008.400,"v":0.93395},{"t":2008.425,"v":0.933824},{"t":2008.444,"v":0.934893},{"t":2008.475,"v":0.935271},{"t":2008.507,"v":0.935522},{"t":2008.539,"v":0.935711},{"t":2008.570,"v":0.935837},{"t":2008.602,"v":0.935799},{"t":2008.633,"v":0.935774},{"t":2008.665,"v":0.936025},{"t":2008.690,"v":0.936277},{"t":2008.709,"v":0.936214},{"t":2008.722,"v":0.934516},{"t":2008.741,"v":0.934642},{"t":2008.760,"v":0.933887},{"t":2008.779,"v":0.933132},{"t":2008.804,"v":0.932315},{"t":2008.829,"v":0.932315},{"t":2008.855,"v":0.932315},{"t":2008.886,"v":0.932252},{"t":2008.918,"v":0.932252},{"t":2008.943,"v":0.932441},{"t":2008.968,"v":0.932126},{"t":2008.987,"v":0.931749},{"t":2009.000,"v":0.930742}
    ]
  }
}
